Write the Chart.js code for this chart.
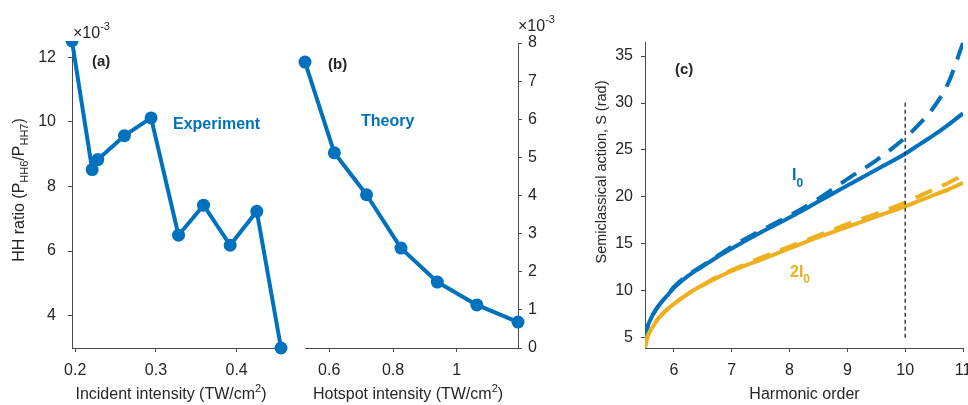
<!DOCTYPE html>
<html><head><meta charset="utf-8">
<script src="https://cdn.jsdelivr.net/npm/chart.js@4/dist/chart.umd.min.js"></script>
<style>
html,body{margin:0;padding:0;background:#fff;}
#wrap{position:relative;width:968px;height:405px;overflow:hidden;background:#fff;}
canvas{position:absolute;top:0;}
</style></head><body>
<div id="wrap">
<canvas id="ca" width="290" height="405" style="left:0px"></canvas>
<canvas id="cb" width="280" height="405" style="left:290px"></canvas>
<canvas id="cc" width="398" height="405" style="left:570px"></canvas>
</div>
<script>
// ---------- data ----------
// (a) experiment
const expIntensity = [0.196, 0.221, 0.228, 0.261, 0.294, 0.328, 0.359, 0.392, 0.425, 0.455];
const expRatio     = [12.5, 8.52, 8.83, 9.57, 10.12, 6.49, 7.42, 6.18, 7.23, 3.0];
// (b) theory
const hotspotIntensity = [0.524, 0.616, 0.717, 0.825, 0.939, 1.063, 1.192];
const theoryRatio      = [7.5, 5.12, 4.02, 2.62, 1.73, 1.13, 0.68];
// (c) semiclassical action
const harmonicOrder   = [5.5, 5.52, 5.55, 5.6, 5.65, 5.7, 5.8, 5.9, 6.0, 6.25, 6.5, 6.75, 7.0, 7.5, 8.0, 8.5, 9.0, 9.5, 10.0, 10.25, 10.5, 10.75, 11.0];
const actionI0        = [4.5, 5.5, 6.3, 7.0, 7.6, 8.1, 8.9, 9.6, 10.3, 11.6, 12.6, 13.6, 14.5, 16.2, 17.8, 19.5, 21.2, 22.9, 24.6, 25.6, 26.6, 27.7, 28.9];
const actionI0Dashed  = [4.5, 5.5, 6.3, 7.0, 7.6, 8.1, 8.9, 9.6, 10.4, 11.7, 12.7, 13.7, 14.7, 16.4, 18.0, 19.8, 21.9, 23.9, 26.3, 27.8, 29.6, 32.2, 36.4];
const action2I0       = [3.9, 4.6, 5.2, 5.8, 6.3, 6.8, 7.5, 8.1, 8.6, 9.7, 10.6, 11.4, 12.1, 13.3, 14.5, 15.7, 16.8, 17.9, 19.0, 19.6, 20.2, 20.8, 21.5];
const action2I0Dashed = [3.9, 4.6, 5.2, 5.8, 6.3, 6.8, 7.5, 8.1, 8.6, 9.7, 10.6, 11.5, 12.2, 13.5, 14.7, 15.9, 17.1, 18.2, 19.4, 20.1, 20.8, 21.5, 22.3];
const cutoffOrder  = [10, 10];
const cutoffAction = [5, 30.1];
// tick labels
const ticksAX = [0.2, 0.3, 0.4];
const ticksAY = [4, 6, 8, 10, 12];
const ticksBX = [0.6, 0.8, 1];
const ticksBY = [0, 1, 2, 3, 4, 5, 6, 7, 8];
const ticksCX = [6, 7, 8, 9, 10, 11];
const ticksCY = [5, 10, 15, 20, 25, 30, 35];

// ---------- style ----------
const BLUE = '#0072BD', ORANGE = '#EDB120', AX = '#4a4a4a', TXT = '#262626';
const FONT = "'Liberation Sans', Arial, sans-serif";

function pts(xs, ys){ return xs.map((x,i)=>({x:x, y:ys[i]})); }

function scale(pos, min, max, ticks, size, pad){
  const horiz = (pos === 'bottom');
  return {
    type:'linear', position:pos, min:min, max:max,
    border:{display:true, color:AX, width:1},
    grid:{display:true, drawOnChartArea:false, drawTicks:true, tickLength:4, color:AX, tickColor:AX},
    ticks:{color:TXT, font:{family:FONT, size:16}, padding:pad, autoSkip:false, maxRotation:0,
           callback:(v)=>String(v)},
    afterBuildTicks:(s)=>{ s.ticks = ticks.map(v=>({value:v})); },
    afterFit:(s)=>{
      if (horiz) s.height = size; else s.width = size;
      s.paddingLeft = 0; s.paddingRight = 0; s.paddingTop = 0; s.paddingBottom = 0;
    }
  };
}

function rich(ctx, x, y, segs, align, rot){
  ctx.save();
  ctx.translate(x, y);
  if (rot) ctx.rotate(rot);
  ctx.textBaseline = 'alphabetic';
  ctx.textAlign = 'left';
  let total = 0;
  segs.forEach(s=>{ ctx.font = (s.bold?'bold ':'') + s.size + 'px ' + FONT; s.w = ctx.measureText(s.t).width; total += s.w; });
  let cx = align === 'center' ? -total/2 : 0;
  segs.forEach(s=>{
    ctx.font = (s.bold?'bold ':'') + s.size + 'px ' + FONT;
    ctx.fillStyle = s.color || TXT;
    ctx.fillText(s.t, cx, s.dy || 0);
    cx += s.w;
  });
  ctx.restore();
}

function annot(fn){ return { id:'annot', afterDraw:(chart)=>{ fn(chart.ctx); } }; }

const common = {
  responsive:false, animation:false, devicePixelRatio:1,
  plugins:{legend:{display:false}, tooltip:{enabled:false}},
  elements:{line:{borderCapStyle:'butt', borderJoinStyle:'round'}}
};

// ---------- (a) ----------
new Chart(document.getElementById('ca'), {
  type:'line',
  data:{datasets:[{
    data:pts(expIntensity, expRatio), borderColor:BLUE, backgroundColor:BLUE,
    borderWidth:4, pointRadius:6.5, pointBorderWidth:0, pointBackgroundColor:BLUE, tension:0,
    clip:{left:10, top:0, right:10, bottom:10}
  }]},
  options:Object.assign({}, common, {
    layout:{padding:{top:41, right:9, left:0, bottom:0}},
    scales:{
      x: scale('bottom', 0.196, 0.455, ticksAX, 57, 9),
      y: scale('left', 3.0, 12.5, ticksAY, 72, 12)
    }
  }),
  plugins:[annot((ctx)=>{
    rich(ctx, 73, 38, [{t:'\u00d710', size:16}, {t:'-3', size:11, dy:-8}], 'left');
    rich(ctx, 92, 66, [{t:'(a)', size:15, bold:true}], 'left');
    rich(ctx, 173, 129, [{t:'Experiment', size:16, bold:true, color:BLUE}], 'left');
    rich(ctx, 24, 190, [
      {t:'HH ratio (P', size:16}, {t:'HH6', size:11, dy:3.5},
      {t:'/P', size:16}, {t:'HH7', size:11, dy:3.5}, {t:')', size:16}
    ], 'center', -Math.PI/2);
    rich(ctx, 171, 399, [{t:'Incident intensity (TW/cm', size:16}, {t:'2', size:11, dy:-7}, {t:')', size:16}], 'center');
  })]
});

// ---------- (b) ----------
new Chart(document.getElementById('cb'), {
  type:'line',
  data:{datasets:[{
    data:pts(hotspotIntensity, theoryRatio), borderColor:BLUE, backgroundColor:BLUE,
    borderWidth:4, pointRadius:6.5, pointBorderWidth:0, pointBackgroundColor:BLUE, tension:0,
    clip:false
  }]},
  options:Object.assign({}, common, {
    layout:{padding:{top:43, left:15, right:0, bottom:0}},
    scales:{
      x: scale('bottom', 0.524, 1.192, ticksBX, 57, 9),
      y: scale('right', 0, 8, ticksBY, 52, 6)
    }
  }),
  plugins:[annot((ctx)=>{
    rich(ctx, 228, 31, [{t:'\u00d710', size:16}, {t:'-3', size:11, dy:-8}], 'left');
    rich(ctx, 38, 69, [{t:'(b)', size:15, bold:true}], 'left');
    rich(ctx, 71, 126, [{t:'Theory', size:16, bold:true, color:BLUE}], 'left');
    rich(ctx, 118, 399, [{t:'Hotspot intensity (TW/cm', size:16}, {t:'2', size:11, dy:-7}, {t:')', size:16}], 'center');
  })]
});

// ---------- (c) ----------
const curve = (ys, color, dash, order)=>({
  data:pts(harmonicOrder, ys), borderColor:color, backgroundColor:color, borderWidth:4,
  borderDash:dash, pointRadius:0, tension:0.4, cubicInterpolationMode:'monotone', order:order
});
new Chart(document.getElementById('cc'), {
  type:'line',
  data:{datasets:[
    {data:pts(cutoffOrder, cutoffAction), borderColor:'#222', borderWidth:1.3, borderDash:[4,3], pointRadius:0, tension:0, order:0},
    curve(action2I0, ORANGE, [], 1),
    curve(action2I0Dashed, ORANGE, [18,11], 2),
    curve(actionI0, BLUE, [], 3),
    curve(actionI0Dashed, BLUE, [18,11], 4)
  ]},
  options:Object.assign({}, common, {
    layout:{padding:{top:42, right:5, left:0, bottom:0}},
    scales:{
      x: scale('bottom', 5.5, 11, ticksCX, 57, 9),
      y: scale('left', 3.9, 36.5, ticksCY, 75, 8)
    }
  }),
  plugins:[annot((ctx)=>{
    rich(ctx, 105, 74, [{t:'(c)', size:15, bold:true}], 'left');
    rich(ctx, 222, 180, [{t:'I', size:16, bold:true, color:BLUE}, {t:'0', size:12, bold:true, color:BLUE, dy:7}], 'left');
    rich(ctx, 220, 277, [{t:'2I', size:16, bold:true, color:ORANGE}, {t:'0', size:12, bold:true, color:ORANGE, dy:6}], 'left');
    rich(ctx, 36, 172, [{t:'Semiclassical action, S (rad)', size:14.5}], 'center', -Math.PI/2);
    rich(ctx, 234.5, 399, [{t:'Harmonic order', size:16}], 'center');
  })]
});
</script>
</body></html>
